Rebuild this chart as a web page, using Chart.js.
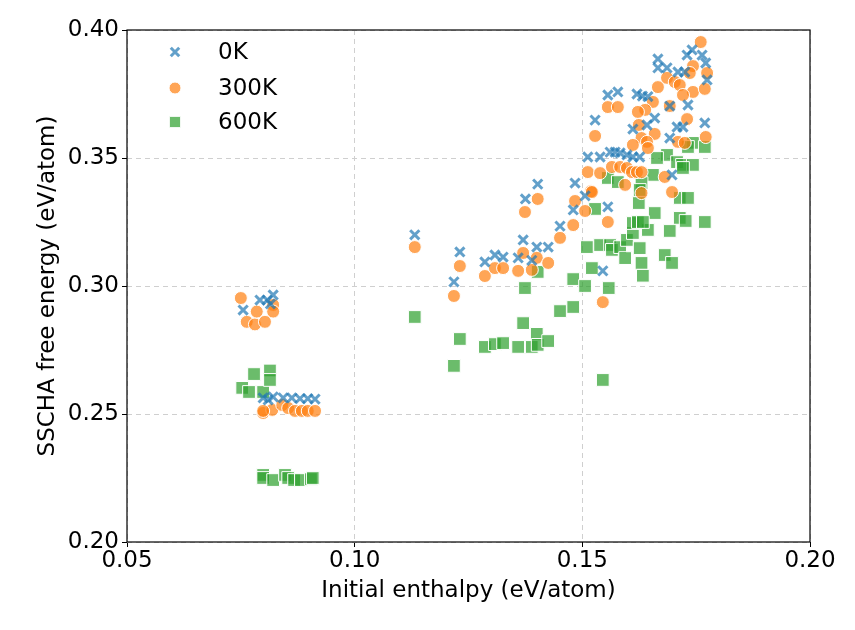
<!DOCTYPE html>
<html>
<head>
<meta charset="utf-8">
<script src="https://cdn.jsdelivr.net/npm/chart.js@4"></script>
<style>
  html, body { margin: 0; padding: 0; background: #fff; }
  #wrap { width: 855px; height: 630px; }
</style>
</head>
<body>
<div id="wrap"><canvas id="myChart" width="855" height="630"></canvas></div>
<script>
// enthalpy (x) / free energy (y) pairs, eV/atom
const x0K = [0.0755, 0.0792, 0.0808, 0.0821, 0.0815, 0.0799, 0.0821, 0.0843, 0.0862, 0.0880, 0.0897, 0.0913, 0.0810,
  0.1132, 0.1231, 0.1218, 0.1286, 0.1308, 0.1326, 0.1359, 0.1370, 0.1400, 0.1425, 0.1389, 0.1451, 0.1480, 0.1375, 0.1402,
  0.1484, 0.1506, 0.1556, 0.1545, 0.1512, 0.1539, 0.1561, 0.1572, 0.1583, 0.1598, 0.1611, 0.1626, 0.1697, 0.1556, 0.1578,
  0.1528, 0.1620, 0.1632, 0.1644, 0.1666, 0.1666, 0.1686, 0.1710, 0.1725, 0.1741, 0.1763, 0.1730, 0.1771, 0.1774, 0.1732,
  0.1769, 0.1659, 0.1611, 0.1642, 0.1692, 0.1721, 0.1708, 0.1692]
const y0K = [0.2906, 0.2945, 0.2945, 0.2965, 0.2930, 0.2563, 0.2567, 0.2563, 0.2563, 0.2560, 0.2560, 0.2558, 0.2555,
  0.3200, 0.3133, 0.3016, 0.3094, 0.3121, 0.3113, 0.3110, 0.3180, 0.3152, 0.3152, 0.3100, 0.3234, 0.3297, 0.3340, 0.3398,
  0.3402, 0.3352, 0.3309, 0.3059, 0.3504, 0.3504, 0.3523, 0.3523, 0.3520, 0.3512, 0.3504, 0.3504, 0.3434, 0.3746, 0.3758,
  0.3648, 0.3750, 0.3742, 0.3740, 0.3887, 0.3852, 0.3852, 0.3836, 0.3836, 0.3922, 0.3902, 0.3902, 0.3871, 0.3805, 0.3707,
  0.3637, 0.3656, 0.3613, 0.3629, 0.3578, 0.3621, 0.3621, 0.3703]

const x300K = [0.0750, 0.0763, 0.0781, 0.0803, 0.0785, 0.0821, 0.0821,
  0.0799, 0.0819, 0.0841, 0.0854, 0.0869, 0.0884, 0.0897, 0.0913, 0.0799,
  0.1132, 0.1231, 0.1218, 0.1286, 0.1308, 0.1326, 0.1359, 0.1370, 0.1400, 0.1425, 0.1389, 0.1451, 0.1480, 0.1374, 0.1402,
  0.1484, 0.1519, 0.1506, 0.1556, 0.1545, 0.1512, 0.1539, 0.1565, 0.1583, 0.1598, 0.1609, 0.1620, 0.1630, 0.1681, 0.1697,
  0.1594, 0.1630, 0.1521, 0.1760, 0.1743, 0.1774, 0.1686, 0.1703, 0.1714, 0.1736, 0.1743, 0.1769, 0.1721, 0.1556, 0.1578,
  0.1528, 0.1666, 0.1655, 0.1638, 0.1622, 0.1692, 0.1730, 0.1771, 0.1624, 0.1659, 0.1630, 0.1642, 0.1644, 0.1611, 0.1710, 0.1725]
const y300K = [0.2953, 0.2860, 0.2850, 0.2860, 0.2900, 0.2926, 0.2900,
  0.2504, 0.2516, 0.2535, 0.2523, 0.2512, 0.2512, 0.2512, 0.2512, 0.2512,
  0.3152, 0.3078, 0.2961, 0.3039, 0.3070, 0.3070, 0.3059, 0.3129, 0.3110, 0.3090, 0.3063, 0.3188, 0.3238, 0.3289, 0.3340,
  0.3332, 0.3370, 0.3293, 0.3250, 0.2937, 0.3445, 0.3441, 0.3465, 0.3465, 0.3461, 0.3445, 0.3445, 0.3445, 0.3426, 0.3367,
  0.3395, 0.3363, 0.3367, 0.3953, 0.3859, 0.3832, 0.3813, 0.3797, 0.3785, 0.3832, 0.3758, 0.3770, 0.3746, 0.3699, 0.3699,
  0.3586, 0.3777, 0.3719, 0.3688, 0.3680, 0.3703, 0.3652, 0.3582, 0.3629, 0.3594, 0.3578, 0.3563, 0.3539, 0.3551, 0.3563, 0.3559]

const x600K = [0.0753, 0.0768, 0.0779, 0.0799, 0.0814, 0.0814,
  0.0799, 0.0799, 0.0821, 0.0847, 0.0854, 0.0867, 0.0882, 0.0904, 0.0908,
  0.1132, 0.1231, 0.1218, 0.1286, 0.1308, 0.1326, 0.1359, 0.1370, 0.1389, 0.1400, 0.1402, 0.1425, 0.1374, 0.1402, 0.1451,
  0.1480, 0.1480, 0.1528, 0.1510, 0.1539, 0.1561, 0.1565, 0.1583, 0.1521, 0.1506, 0.1558, 0.1545, 0.1594, 0.1598, 0.1611,
  0.1611, 0.1626, 0.1630, 0.1633, 0.1644, 0.1659, 0.1624, 0.1622, 0.1633, 0.1681, 0.1697, 0.1692, 0.1714, 0.1727, 0.1769,
  0.1714, 0.1732, 0.1743, 0.1769, 0.1732, 0.1686, 0.1664, 0.1708, 0.1719, 0.1743, 0.1721, 0.1655, 0.1556, 0.1578, 0.1630, 0.1626]
const y600K = [0.2602, 0.2586, 0.2656, 0.2586, 0.2670, 0.2633,
  0.2262, 0.2250, 0.2242, 0.2262, 0.2250, 0.2242, 0.2242, 0.2246, 0.2250,
  0.2879, 0.2793, 0.2688, 0.2762, 0.2773, 0.2777, 0.2762, 0.2855, 0.2762, 0.2813, 0.2770, 0.2785, 0.2992, 0.3055, 0.2902,
  0.2918, 0.3027, 0.3301, 0.3152, 0.3160, 0.3160, 0.3141, 0.3152, 0.3070, 0.3000, 0.2992, 0.2633, 0.3109, 0.3180, 0.3207,
  0.3246, 0.3148, 0.3090, 0.3040, 0.3219, 0.3285, 0.3324, 0.3250, 0.3250, 0.3121, 0.3090, 0.3215, 0.3266, 0.3254, 0.3250,
  0.3344, 0.3344, 0.3559, 0.3543, 0.3543, 0.3512, 0.3500, 0.3484, 0.3473, 0.3473, 0.3461, 0.3434, 0.3422, 0.3406, 0.3402, 0.3375]

const seriesLabels = ['0K', '300K', '600K']
const xTicks = [0.05, 0.10, 0.15, 0.20]
const yTicks = [0.20, 0.25, 0.30, 0.35, 0.40]

const pairs = (xs, ys) => xs.map((x, i) => ({ x: x, y: ys[i] }))

const font = "'DejaVu Sans', sans-serif"
const fontSize = 23

const blue = 'rgba(31,119,180,0.7)'
const orange = 'rgba(255,127,14,0.7)'
const green = 'rgba(44,160,44,0.7)'

// full black frame round the plot, like matplotlib spines
const frame = {
    id: 'frame',
    afterDatasetsDraw(chart) {
        const a = chart.chartArea
        const c = chart.ctx
        c.save()
        c.strokeStyle = '#000'
        c.lineWidth = 1.2
        c.strokeRect(a.left, a.top, a.right - a.left, a.bottom - a.top)
        c.restore()
    }
}

// legend drawn inside the upper-left corner of the plot
const insideLegend = {
    id: 'insideLegend',
    afterDraw(chart) {
        const c = chart.ctx
        const rows = [52, 88, 122]
        chart.data.datasets.forEach((ds, i) => {
            c.save()
            c.fillStyle = ds.backgroundColor
            c.strokeStyle = ds.borderColor
            c.lineWidth = ds.pointBorderWidth
            Chart.helpers.drawPoint(c, {
                pointStyle: ds.pointStyle,
                radius: ds.pointStyle === 'rect' ? 8 : 6,
                borderWidth: ds.pointBorderWidth,
                rotation: 0
            }, 175, rows[i])
            c.fillStyle = '#000'
            c.font = fontSize + 'px ' + font
            c.textBaseline = 'middle'
            c.textAlign = 'left'
            c.fillText(ds.label, 218, rows[i] + 1)
            c.restore()
        })
    }
}

const context = document.getElementById('myChart').getContext('2d')
const myChart = new Chart(context, {
    type: 'scatter',
    data: {
        datasets: [
            {
                label: seriesLabels[0],
                data: pairs(x0K, y0K),
                pointStyle: 'crossRot',
                pointRadius: 6.5,
                pointBorderWidth: 3,
                borderColor: blue,
                backgroundColor: blue
            },
            {
                label: seriesLabels[1],
                data: pairs(x300K, y300K),
                pointStyle: 'circle',
                pointRadius: 6.5,
                pointBorderWidth: 1,
                borderColor: '#fff',
                backgroundColor: orange
            },
            {
                label: seriesLabels[2],
                data: pairs(x600K, y600K),
                pointStyle: 'rect',
                pointRadius: 9,
                pointBorderWidth: 1,
                borderColor: '#fff',
                backgroundColor: green
            }
        ]
    },
    options: {
        responsive: false,
        animation: false,
        layout: { padding: { top: 30, right: 45, left: 0, bottom: 0 } },
        plugins: {
            legend: { display: false },
            tooltip: { enabled: false }
        },
        scales: {
            x: {
                type: 'linear',
                min: 0.05,
                max: 0.20,
                afterBuildTicks: axis => { axis.ticks = xTicks.map(v => ({ value: v })) },
                afterFit: axis => { axis.height = 88 },
                ticks: {
                    color: '#000',
                    font: { family: font, size: fontSize },
                    padding: 0,
                    maxRotation: 0,
                    callback: v => v.toFixed(2)
                },
                grid: {
                    color: '#cfcfcf',
                    tickColor: '#000',
                    tickLength: 5,
                    tickBorderDash: [],
                    lineWidth: 1
                },
                border: { display: false, dash: [5, 4] },
                title: {
                    display: true,
                    text: 'Initial enthalpy (eV/atom)',
                    color: '#000',
                    font: { family: font, size: fontSize },
                    padding: { top: 0, bottom: 25 }
                }
            },
            y: {
                type: 'linear',
                min: 0.20,
                max: 0.40,
                afterBuildTicks: axis => { axis.ticks = yTicks.map(v => ({ value: v })) },
                afterFit: axis => { axis.width = 127 },
                ticks: {
                    color: '#000',
                    font: { family: font, size: fontSize },
                    padding: 3,
                    callback: v => v.toFixed(2)
                },
                grid: {
                    color: '#cfcfcf',
                    tickColor: '#000',
                    tickLength: 5,
                    tickBorderDash: [],
                    lineWidth: 1
                },
                border: { display: false, dash: [5, 4] },
                title: {
                    display: true,
                    text: 'SSCHA free energy (eV/atom)',
                    color: '#000',
                    font: { family: font, size: fontSize },
                    padding: { top: 34, bottom: 0 }
                }
            }
        }
    },
    plugins: [frame, insideLegend]
})
</script>
</body>
</html>
